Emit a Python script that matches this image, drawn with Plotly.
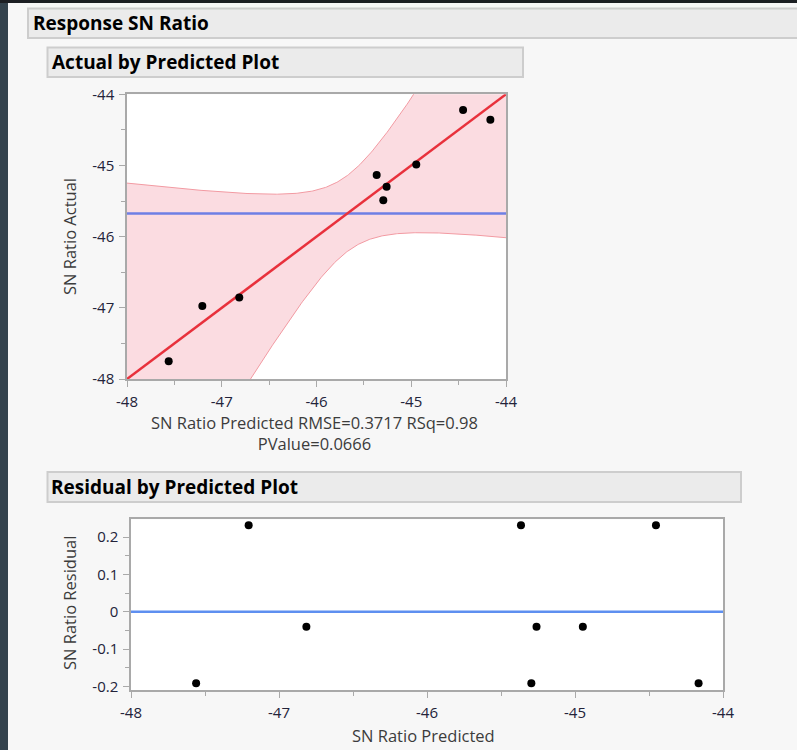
import numpy as np
import plotly.graph_objects as go

# ---- data -------------------------------------------------------------
predicted = [-47.56, -47.205, -46.815, -45.365, -45.26, -45.295, -44.947, -44.453, -44.165]
actual = [-47.752, -46.973, -46.855, -45.133, -45.300, -45.487, -44.987, -44.221, -44.357]

rmse = 0.3717
n_obs = 9
df_model = 6
t_crit = 4.303    # t(0.975, df=2)
f_crit = 19.33    # F(0.95, 6, 2)

sn_ticks = [-48, -47, -46, -45, -44]
resid_ticks = [-0.2, -0.1, 0, 0.1, 0.2]
sn_range = [-48, -44]
resid_range = [-0.21, 0.248]

W, H = 797, 750

pred = np.array(predicted)
act = np.array(actual)
resid = act - pred
xbar = pred.mean()
sxx = ((pred - xbar) ** 2).sum()

# confidence curves around the actual = predicted line
xs = np.linspace(sn_range[0] - 0.2, sn_range[1] + 0.2, 400)
half = np.sqrt(t_crit ** 2 * rmse ** 2 / n_obs
               + f_crit * df_model * rmse ** 2 * (xs - xbar) ** 2 / sxx)
upper = xs + half
lower = xs - half


def px_x(v):
    return v / W


def px_y(v):
    return 1 - v / H


TICK_FONT = dict(family="Open Sans", size=15, color="#23233a")
TITLE_FONT = dict(family="Open Sans", size=16.5, color="#3c3c3c")
FRAME = "#a9a9a9"

fig = go.Figure()

# band
fig.add_trace(go.Scatter(x=xs, y=lower, mode="lines", line=dict(color="#f29aa2", width=1),
                         hoverinfo="skip", showlegend=False, xaxis="x", yaxis="y"))
fig.add_trace(go.Scatter(x=xs, y=upper, mode="lines", line=dict(color="#f29aa2", width=1),
                         fill="tonexty", fillcolor="rgba(250,207,214,0.72)",
                         hoverinfo="skip", showlegend=False, xaxis="x", yaxis="y"))
# mean of actual
fig.add_trace(go.Scatter(x=sn_range, y=[act.mean()] * 2, mode="lines",
                         line=dict(color="#6e7fe4", width=2.5),
                         showlegend=False, xaxis="x", yaxis="y"))
# fit line
fig.add_trace(go.Scatter(x=sn_range, y=sn_range, mode="lines",
                         line=dict(color="#e8313c", width=2.5),
                         showlegend=False, xaxis="x", yaxis="y"))
fig.add_trace(go.Scatter(x=pred, y=act, mode="markers",
                         marker=dict(color="black", size=8),
                         showlegend=False, xaxis="x", yaxis="y"))

# residual plot
fig.add_trace(go.Scatter(x=sn_range, y=[0, 0], mode="lines",
                         line=dict(color="#5e8ff0", width=2.5),
                         showlegend=False, xaxis="x2", yaxis="y2"))
fig.add_trace(go.Scatter(x=pred, y=resid, mode="markers",
                         marker=dict(color="black", size=8),
                         showlegend=False, xaxis="x2", yaxis="y2"))


def axis(domain, rng, tickvals, minor_dtick, anchor, tick0):
    return dict(domain=domain, range=rng, anchor=anchor, automargin=False,
                tickvals=tickvals, ticktext=[f"{v:g}" for v in tickvals],
                showline=True, mirror=True, linecolor=FRAME, linewidth=1.5,
                ticks="outside", ticklen=6, tickwidth=1, tickcolor=FRAME,
                minor=dict(ticks="outside", ticklen=4, tickcolor=FRAME, dtick=minor_dtick,
                           tick0=tick0, showgrid=False),
                showgrid=False, zeroline=False, tickfont=TICK_FONT,
                ticklabelstandoff=2, fixedrange=True)


fig.update_layout(
    width=W, height=H,
    margin=dict(l=0, r=0, t=0, b=0, pad=0, autoexpand=False),
    paper_bgcolor="#f7f7f7",
    plot_bgcolor="white",
    xaxis=axis([px_x(127), px_x(506)], sn_range, sn_ticks, 0.5, "y", -48),
    yaxis=axis([px_y(379), px_y(94.3)], sn_range, sn_ticks, 0.5, "x", -48),
    xaxis2=axis([px_x(131), px_x(723)], sn_range, sn_ticks, 0.5, "y2", -48),
    yaxis2=axis([px_y(690), px_y(519.3)], resid_range, resid_ticks, 0.05, "x2", 0),
)

shapes = []
# window edges
shapes.append(dict(type="rect", xref="paper", yref="paper", x0=0, x1=px_x(8), y0=0, y1=1,
                   fillcolor="#34434d", line=dict(width=0), layer="below"))
shapes.append(dict(type="rect", xref="paper", yref="paper", x0=0, x1=1, y0=px_y(3), y1=1,
                   fillcolor="#1c1f23", line=dict(width=0), layer="below"))
# header bars
for (x0, x1, y0, y1) in [(28, 800, 8.5, 38), (47.5, 523, 47.5, 77), (47.5, 741, 472, 502)]:
    shapes.append(dict(type="rect", xref="paper", yref="paper",
                       x0=px_x(x0), x1=px_x(x1), y0=px_y(y1), y1=px_y(y0),
                       fillcolor="#ebebeb", line=dict(color="#cdcdcd", width=2), layer="below"))
fig.update_layout(shapes=shapes)

ann = []
HEAD_FONT = dict(family="Open Sans", size=19, color="black", weight="bold")
for txt, x, y in [("Response SN Ratio", 31, 23.5), ("Actual by Predicted Plot", 50, 62),
                  ("Residual by Predicted Plot", 49, 487)]:
    ann.append(dict(text=txt, x=px_x(x), y=px_y(y), xref="paper", yref="paper",
                    xanchor="left", yanchor="middle", showarrow=False, font=HEAD_FONT))


def centered(text, x, y, angle=0):
    return dict(text=text, x=px_x(x), y=px_y(y), xref="paper", yref="paper",
                xanchor="center", yanchor="middle", textangle=angle,
                showarrow=False, font=TITLE_FONT, align="center")


ann.append(centered("SN Ratio Actual", 69, 237, -90))
ann.append(centered("SN Ratio Predicted RMSE=0.3717 RSq=0.98<br>PValue=0.0666", 314, 433))
ann.append(centered("SN Ratio Residual", 69, 603, -90))
ann.append(centered("SN Ratio Predicted", 424, 735))
fig.update_layout(annotations=ann)

fig.write_html("out.html")
